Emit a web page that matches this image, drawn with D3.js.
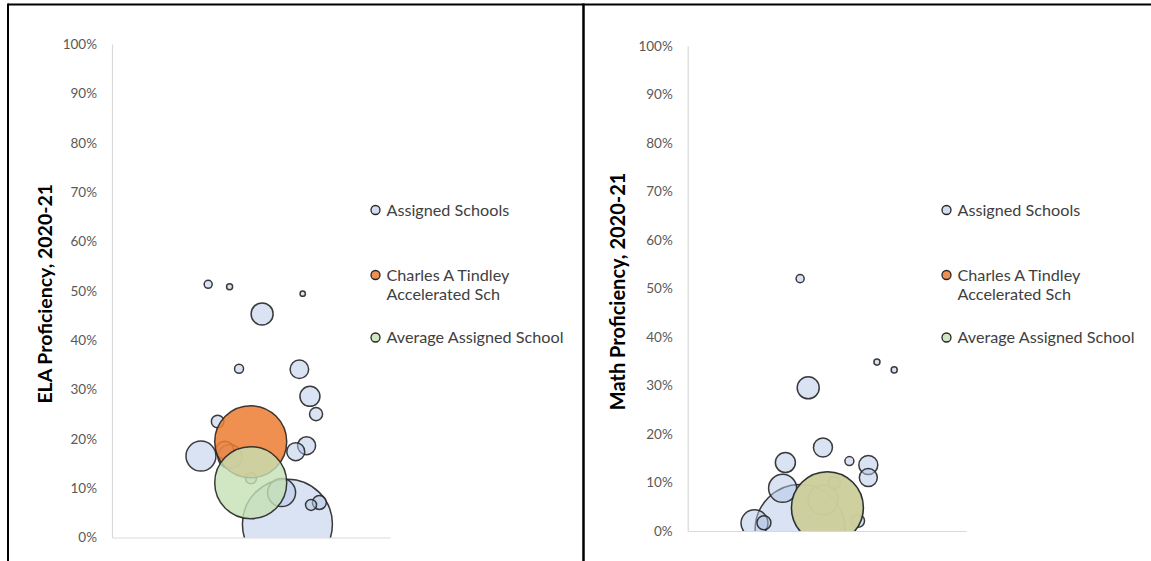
<!DOCTYPE html>
<html>
<head>
<meta charset="utf-8">
<script src="https://cdn.jsdelivr.net/npm/d3@7"></script>
<style>
  html, body { margin: 0; padding: 0; background: #ffffff; }
  svg { display: block; font-family: Lato, "Open Sans", sans-serif; }
</style>
</head>
<body>
<svg id="chart" width="1151" height="561"></svg>
<script>
// ELA proficiency 2020-21: assigned schools (x = spread position, y = share proficient, size = students)
const elaAssignedX    = [63.1, 32.0, 61.0, 42.4, 40.6, 54.0, 71.2, 67.4, 70.0, 66.1, 74.6, 73.4, 38.0, 71.6, 50.0, 45.7, 34.6, 42.3, 68.6];
const elaAssignedY    = [0.027, 0.165, 0.091, 0.164, 0.177, 0.453, 0.286, 0.341, 0.186, 0.174, 0.071, 0.250, 0.235, 0.066, 0.120, 0.342, 0.513, 0.508, 0.494];
const elaAssignedSize = [2000, 222, 194, 142, 80, 120, 99, 85, 80, 80, 48, 42, 39, 30, 30, 20, 16, 9, 7];
const elaTindleyX = [49.9], elaTindleyY = [0.194], elaTindleySize = [1280];
const elaAverageX = [49.9], elaAverageY = [0.111], elaAverageSize = [1280];

// Math proficiency 2020-21
const mathAssignedX    = [40.4, 48.7, 34.1, 24.0, 43.3, 35.1, 48.6, 64.9, 64.9, 27.4, 61.2, 52.7, 58.1, 40.4, 68.0, 74.2];
const mathAssignedY    = [0.003, 0.064, 0.088, 0.016, 0.295, 0.141, 0.172, 0.136, 0.110, 0.017, 0.021, 0.100, 0.144, 0.520, 0.348, 0.332];
const mathAssignedSize = [2000, 222, 194, 180, 120, 99, 89, 89, 80, 48, 42, 36, 20, 16, 9, 9];
const mathTindleyX = [50.2], mathTindleyY = [0.048], mathTindleySize = [1250];
const mathAverageX = [50.2], mathAverageY = [0.048], mathAverageSize = [1280];

const yTickValues = [0, 0.1, 0.2, 0.3, 0.4, 0.5, 0.6, 0.7, 0.8, 0.9, 1.0];
const seriesNames = ["Assigned Schools", "Charles A Tindley|Accelerated Sch", "Average Assigned School"];
const axisTitles = ["ELA Proficiency, 2020-21", "Math Proficiency, 2020-21"];

const svg = d3.select("#chart");

// frame lines around the two panels
svg.append("line").attr("x1", 8).attr("x2", 1151).attr("y1", 4.5).attr("y2", 4.5)
  .attr("stroke", "#000").attr("stroke-width", 2);
svg.append("line").attr("x1", 8).attr("x2", 8).attr("y1", 3.5).attr("y2", 561)
  .attr("stroke", "#000").attr("stroke-width", 2);
svg.append("line").attr("x1", 583.5).attr("x2", 583.5).attr("y1", 3.5).attr("y2", 561)
  .attr("stroke", "#000").attr("stroke-width", 2.5);

const styles = [
  { fill: "#B4C7E7", opacity: 0.5 },
  { fill: "#ED7D31", opacity: 0.85 },
  { fill: "#C5E0B4", opacity: 0.8 }
];

// bubble area is proportional to size, shared by both panels
const rScale = d3.scaleSqrt().domain([0, 2000]).range([0, 45]);

function zip(xs, ys, ss) { return xs.map((x, i) => ({ x, y: ys[i], s: ss[i] })); }

function drawPanel(id, p, series, title) {
  const g = svg.append("g");
  const x = d3.scaleLinear().domain([0, 100]).range([p.left, p.right]);
  const y = d3.scaleLinear().domain([0, 1]).range([p.bottom, p.top]);

  g.append("defs").append("clipPath").attr("id", "clip-" + id)
    .append("rect").attr("x", p.left).attr("y", p.top - 40)
    .attr("width", p.right - p.left).attr("height", p.bottom - p.top + 40);

  // y axis
  const yAxis = g.append("g").attr("transform", `translate(${p.left},0)`)
    .call(d3.axisLeft(y).tickValues(yTickValues).tickFormat(d3.format(".0%")).tickSize(0).tickSizeOuter(0).tickPadding(15));
  yAxis.select(".domain").attr("stroke", "#D9D9D9").attr("stroke-width", 1.2);
  yAxis.selectAll("text").attr("font-family", "Lato, sans-serif").attr("font-size", 13.5).attr("fill", "#595959");

  // x axis (line only)
  const xAxis = g.append("g").attr("transform", `translate(0,${p.bottom})`)
    .call(d3.axisBottom(x).tickValues([]).tickSizeOuter(0));
  xAxis.select(".domain").attr("stroke", "#D9D9D9").attr("stroke-width", 1.2);

  // bubbles
  const plot = g.append("g").attr("clip-path", `url(#clip-${id})`);
  series.forEach((data, k) => {
    const sorted = data.slice().sort((a, b) => b.s - a.s);
    plot.append("g").selectAll("circle").data(sorted).join("circle")
      .attr("cx", d => x(d.x)).attr("cy", d => y(d.y)).attr("r", d => rScale(d.s))
      .attr("fill", styles[k].fill).attr("fill-opacity", styles[k].opacity)
      .attr("stroke", "#262626").attr("stroke-width", 1.5).attr("stroke-opacity", 0.9);
  });

  // axis title
  g.append("text")
    .attr("transform", `translate(${p.titleX},${(p.top + p.bottom) / 2 + 3}) rotate(-90)`)
    .attr("text-anchor", "middle").attr("font-family", "Lato, sans-serif")
    .attr("font-weight", "bold").attr("font-size", p.titleSize).attr("fill", "#000")
    .text(title);

  // legend
  const rows = [210, 275, 337.5];
  seriesNames.forEach((name, k) => {
    g.append("circle").attr("cx", p.legendX).attr("cy", rows[k]).attr("r", 4.5)
      .attr("fill", styles[k].fill).attr("fill-opacity", k === 0 ? 0.6 : styles[k].opacity)
      .attr("stroke", "#262626").attr("stroke-width", 1.3);
    const t = g.append("text").attr("x", p.legendX + 11).attr("y", rows[k])
      .attr("font-family", "Lato, sans-serif")
      .attr("font-size", 16.2).attr("fill", "#404040");
    name.split("|").forEach((line, i) => {
      t.append("tspan").attr("x", p.legendX + 11).attr("dy", i === 0 ? "0.35em" : "1.2em").text(line);
    });
  });
}

drawPanel("ela",
  { left: 112, right: 390, top: 44, bottom: 537.5, titleX: 52, titleSize: 19.5, legendX: 375.5 },
  [zip(elaAssignedX, elaAssignedY, elaAssignedSize),
   zip(elaTindleyX, elaTindleyY, elaTindleySize),
   zip(elaAverageX, elaAverageY, elaAverageSize)],
  axisTitles[0]);

drawPanel("math",
  { left: 687.7, right: 966, top: 45.7, bottom: 531, titleX: 625, titleSize: 20, legendX: 946.5 },
  [zip(mathAssignedX, mathAssignedY, mathAssignedSize),
   zip(mathTindleyX, mathTindleyY, mathTindleySize),
   zip(mathAverageX, mathAverageY, mathAverageSize)],
  axisTitles[1]);
</script>
</body>
</html>
